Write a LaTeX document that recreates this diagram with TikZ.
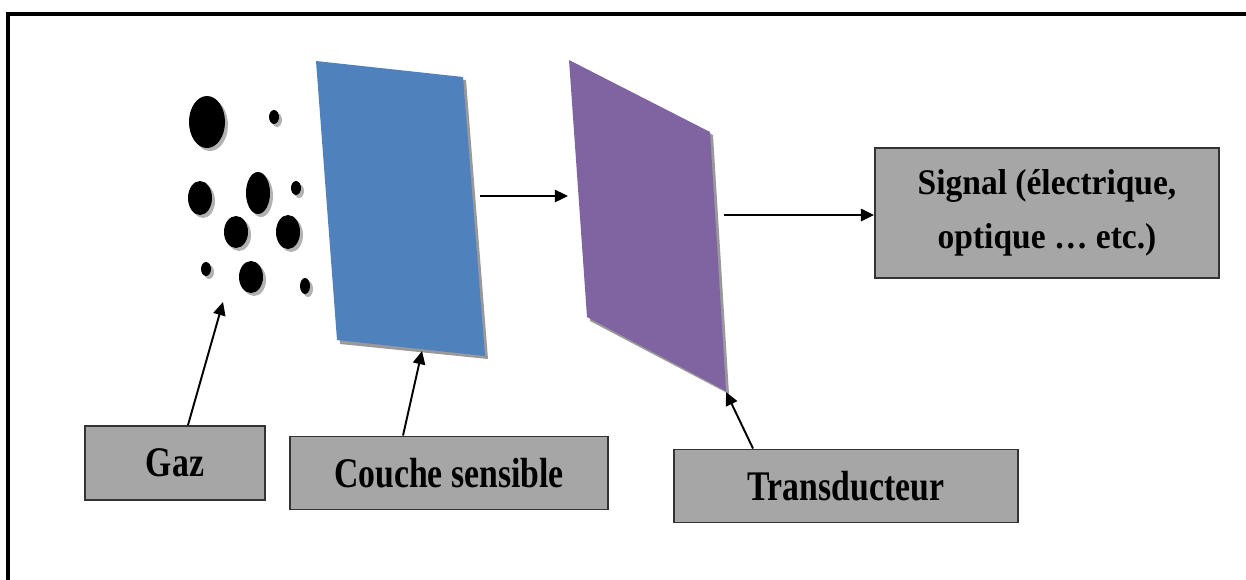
\documentclass[tikz,border=0pt]{standalone}
\usepackage{fontspec}
\usetikzlibrary{arrows.meta}
\newfontfamily\boxfont[FakeStretch=0.8]{Liberation Serif}
\newfontfamily\signalfont[FakeStretch=0.93]{Liberation Serif}
\definecolor{layerblue}{HTML}{4F81BD}
\definecolor{transpurple}{HTML}{8064A2}
\definecolor{boxgray}{HTML}{A6A6A6}
\tikzset{
  labelbox/.style={draw=black!80, line width=1.1pt, fill=boxgray, inner sep=0pt,
    font=\boxfont\fontsize{24}{28}\selectfont\bfseries},
  pointer/.style={line width=1.1pt, -{Triangle[length=7.5pt,width=7pt]}},
}
\begin{document}
\begin{tikzpicture}[x=0.02cm, y=-0.02cm]
        \useasboundingbox (0,0) rectangle (1246,579);
        % Outer frame (cut at right and bottom)
        \draw[line width=2.3pt] (8,590) -- (8,14) -- (1260,14);

        % Gas molecules with their shadows
        \foreach \x/\y/\rx/\ry in {207/122/18/26, 274/117/5/7, 200/198/12/17, 258/193/12/21,
            296/188/5/7, 236/232/12/16, 288/232/12/17, 206/269/5/7, 251/277/12/16, 305/286/5/8} {
          \fill[black!30] (\x+3,\y+3) ellipse [x radius=\rx, y radius=\ry];
          \fill[black] (\x,\y) ellipse [x radius=\rx, y radius=\ry];
        }

        % Sensitive layer
        \fill[black!40] (319,64) -- (466,80) -- (488,359) -- (340,344) -- cycle;
        \fill[layerblue] (316,61) -- (463,77) -- (485,356) -- (337,340) -- cycle;

        % Transducer
        \fill[black!40] (572,63) -- (713,135) -- (729,394) -- (590,321) -- cycle;
        \fill[transpurple] (569,60) -- (710,132) -- (726,391) -- (587,317) -- cycle;

        % Points where the connectors end
        \coordinate (gasend) at (223,302);
        \coordinate (layerend) at (422,351);
        \coordinate (transend) at (726,392);
        \coordinate (layerout) at (480,196);
        \coordinate (transin) at (568,196);
        \coordinate (transout) at (724,215);

        % Label boxes
        \node[labelbox, minimum width=3.6cm, minimum height=1.48cm] (gaz) at (175,463) {Gaz};
        \node[labelbox, minimum width=6.36cm, minimum height=1.46cm] (couche) at (449,473) {Couche sensible};
        \node[labelbox, minimum width=6.88cm, minimum height=1.46cm] (trans) at (846,486) {Transducteur};
        \node[labelbox, minimum width=6.88cm, minimum height=2.6cm, align=center,
          font=\signalfont\fontsize{20.5}{31}\selectfont\bfseries] (signal) at (1047,213)
          {Signal (électrique,\\optique \dots\ etc.)};

        % Connectors
        \draw[pointer] ([xshift=0.26cm]gaz.north) -- (gasend);
        \draw[pointer] ([xshift=-0.92cm]couche.north) -- (layerend);
        \draw[pointer] ([xshift=-1.86cm]trans.north) -- (transend);
        \draw[pointer] (layerout) -- (transin);
        \draw[pointer] (transout) -- (signal.west |- transout);
\end{tikzpicture}
\end{document}
